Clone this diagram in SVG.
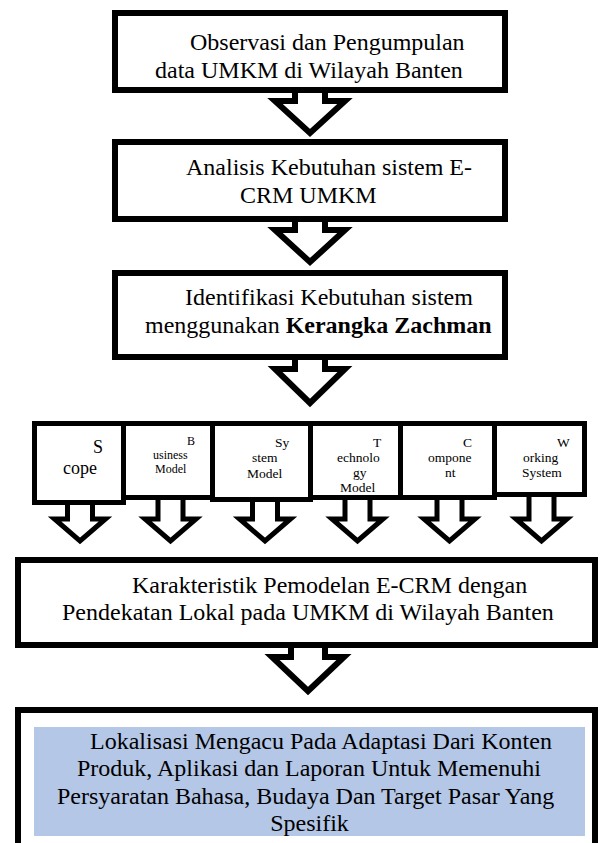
<svg xmlns="http://www.w3.org/2000/svg" width="604" height="843" viewBox="0 0 604 843">
<style>
text{font-family:"Liberation Serif","Times New Roman",serif;fill:#000}
.t24{font-size:24px}
.t12{font-size:12px}
.t13{font-size:13.5px}
.t18{font-size:18px}
.box{fill:#fff;stroke:#000;stroke-width:6}
.sbox{fill:#fff;stroke:#000;stroke-width:5}
.arr{fill:#fff;stroke:#000;stroke-width:6;stroke-linejoin:miter;stroke-miterlimit:10}
.sarr{fill:#fff;stroke:#000;stroke-width:5;stroke-linejoin:miter;stroke-miterlimit:10}
</style>
<rect width="604" height="843" fill="#fff"/>
<g id="connectors">
<polygon class="arr" points="295,88 325,88 325,101 345,101 310,133 275,101 295,101"/>
<polygon class="arr" points="295,217 325,217 325,230 345,230 310,262 275,230 295,230"/>
<polygon class="arr" points="295,355 325,355 325,369 345,369 310,403 275,369 295,369"/>
<polygon class="sarr" points="67.5,495 92.5,495 92.5,519 105.5,519 80,541 54.5,519 67.5,519"/>
<polygon class="sarr" points="158,495 183,495 183,519 196,519 170.5,541 145,519 158,519"/>
<polygon class="sarr" points="252.5,495 277.5,495 277.5,519 290.5,519 265,541 239.5,519 252.5,519"/>
<polygon class="sarr" points="345,495 370,495 370,519 383,519 357.5,541 332,519 345,519"/>
<polygon class="sarr" points="437,495 462,495 462,519 475,519 449.5,541 424,519 437,519"/>
<polygon class="sarr" points="529,492 554,492 554,519 567,519 541.5,541 516,519 529,519"/>
<polygon class="arr" points="291,640 325,640 325,657 344,657 308,691 272,657 291,657"/>
</g>
<g id="n1">
<rect class="box" x="115" y="13" width="390" height="77"/>
<text class="t24"><tspan x="190" y="50">Observasi dan Pengumpulan</tspan><tspan x="155" y="78">data UMKM di Wilayah Banten</tspan></text>
</g>
<g id="n2">
<rect class="box" x="115" y="142" width="390" height="77"/>
<text class="t24"><tspan x="186" y="175">Analisis Kebutuhan sistem E-</tspan><tspan x="240" y="203">CRM UMKM</tspan></text>
</g>
<g id="n3">
<rect class="box" x="115" y="273" width="390" height="84"/>
<text class="t24"><tspan x="185" y="305">Identifikasi Kebutuhan sistem</tspan><tspan x="145" y="333">menggunakan <tspan font-weight="bold">Kerangka Zachman</tspan></tspan></text>
</g>
<g id="scope">
<rect class="sbox" x="34.5" y="423.5" width="89" height="79"/>
<text class="t18"><tspan x="93" y="453">S</tspan><tspan x="63" y="474">cope</tspan></text>
</g>
<g id="business">
<rect class="sbox" x="123.5" y="423.5" width="89" height="74"/>
<text class="t12"><tspan x="187" y="445">B</tspan><tspan x="153" y="459">usiness</tspan><tspan x="155" y="473">Model</tspan></text>
</g>
<g id="system">
<rect class="sbox" x="212.5" y="423.5" width="98" height="76"/>
<text class="t13"><tspan x="275" y="447">Sy</tspan><tspan x="252" y="462">stem</tspan><tspan x="247" y="478">Model</tspan></text>
</g>
<g id="technology">
<rect class="sbox" x="310.5" y="423.5" width="90" height="74"/>
<text class="t13"><tspan x="373" y="447">T</tspan><tspan x="337" y="462">echnolo</tspan><tspan x="353" y="477">gy</tspan><tspan x="340" y="492">Model</tspan></text>
</g>
<g id="component">
<rect class="sbox" x="400.5" y="423.5" width="94" height="74"/>
<text class="t13"><tspan x="463" y="447">C</tspan><tspan x="428" y="462">ompone</tspan><tspan x="445" y="477">nt</tspan></text>
</g>
<g id="working">
<rect class="sbox" x="494.5" y="423.5" width="90" height="71"/>
<text class="t13"><tspan x="557" y="447">W</tspan><tspan x="523" y="462">orking</tspan><tspan x="522" y="477">System</tspan></text>
</g>
<g id="n5">
<rect class="box" x="18" y="560" width="577" height="85"/>
<text class="t24"><tspan x="132" y="593">Karakteristik Pemodelan E-CRM dengan</tspan><tspan x="62" y="620">Pendekatan Lokal pada UMKM di Wilayah Banten</tspan></text>
</g>
<g id="n6">
<rect class="box" x="18" y="710" width="577" height="145"/>
<rect x="34" y="727" width="551" height="109" fill="#B4C7E7"/>
<text class="t24"><tspan x="90" y="749">Lokalisasi Mengacu Pada Adaptasi Dari Konten</tspan><tspan x="77" y="776">Produk, Aplikasi dan Laporan Untuk Memenuhi</tspan><tspan x="57" y="804">Persyaratan Bahasa, Budaya Dan Target Pasar Yang</tspan><tspan x="309.5" y="831" text-anchor="middle">Spesifik</tspan></text>
</g>
</svg>
